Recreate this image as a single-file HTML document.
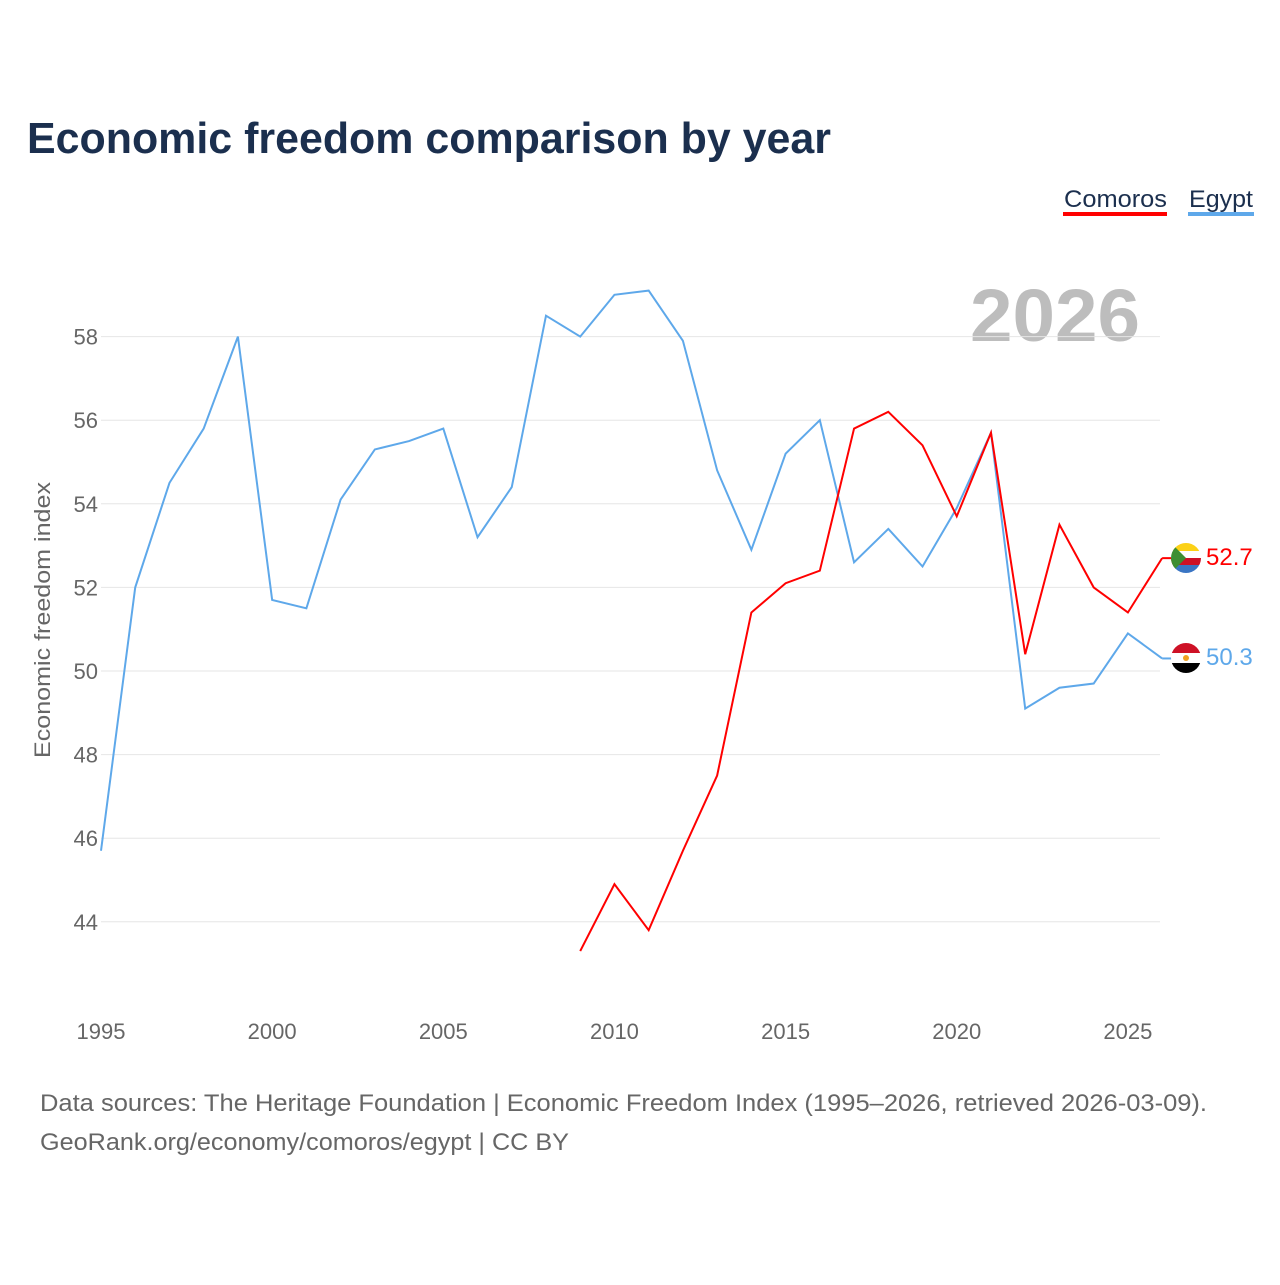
<!DOCTYPE html>
<html><head><meta charset="utf-8"><style>
body{margin:0;width:1280px;height:1280px;background:#fff;font-family:"Liberation Sans",sans-serif;overflow:hidden}
</style></head><body>
<svg id="chart" width="1280" height="1280" xmlns="http://www.w3.org/2000/svg">
<defs>
<clipPath id="c1"><circle cx="1186" cy="558" r="15"/></clipPath>
<clipPath id="c2"><circle cx="1186" cy="658" r="15"/></clipPath>
</defs>
<text x="27" y="153" font-size="44" font-weight="bold" fill="#1b2f4e" textLength="804" lengthAdjust="spacingAndGlyphs">Economic freedom comparison by year</text>
<g><text x="1064" y="207" font-size="24" fill="#1b2f4e" textLength="103" lengthAdjust="spacingAndGlyphs">Comoros</text><rect x="1063" y="212" width="104" height="4" fill="#ff0000"/></g>
<g><text x="1189" y="207" font-size="24" fill="#1b2f4e" textLength="64" lengthAdjust="spacingAndGlyphs">Egypt</text><rect x="1188" y="212" width="66" height="4" fill="#5ea8ea"/></g>
<text x="1140" y="341" font-size="74" font-weight="bold" fill="#bdbdbd" text-anchor="end" textLength="170" lengthAdjust="spacingAndGlyphs">2026</text>
<text transform="translate(50,620) rotate(-90)" font-size="22" fill="#666" text-anchor="middle" textLength="276" lengthAdjust="spacingAndGlyphs">Economic freedom index</text>
<g id="grid"></g><g id="yt"></g><g id="xt"></g><g id="lines"></g>
<g clip-path="url(#c1)">
<rect x="1171" y="543" width="30" height="8" fill="#fcd116"/><rect x="1171" y="551" width="30" height="7" fill="#fff"/><rect x="1171" y="558" width="30" height="7" fill="#ce1126"/><rect x="1171" y="565" width="30" height="8" fill="#3a75c4"/><polygon points="1171,543 1186,558 1171,573" fill="#3d8e33"/></g>
<g clip-path="url(#c2)">
<rect x="1171" y="643" width="30" height="10" fill="#ce1126"/><rect x="1171" y="653" width="30" height="10" fill="#fff"/><rect x="1171" y="663" width="30" height="10" fill="#000"/><circle cx="1186" cy="658" r="3" fill="#f0a020"/></g>
<text x="1206" y="565" font-size="24" fill="#ff0000">52.7</text>
<text x="1206" y="665" font-size="24" fill="#5ea8ea">50.3</text>
<text x="40" y="1111" font-size="24" fill="#666" textLength="1167" lengthAdjust="spacingAndGlyphs">Data sources: The Heritage Foundation | Economic Freedom Index (1995–2026, retrieved 2026-03-09).</text>
<text x="40" y="1150" font-size="24" fill="#666" textLength="529" lengthAdjust="spacingAndGlyphs">GeoRank.org/economy/comoros/egypt | CC BY</text>
</svg>
<script>
const years=[1995,1996,1997,1998,1999,2000,2001,2002,2003,2004,2005,2006,2007,2008,2009,2010,2011,2012,2013,2014,2015,2016,2017,2018,2019,2020,2021,2022,2023,2024,2025,2026];
const egypt=[45.7,52.0,54.5,55.8,58.0,51.7,51.5,54.1,55.3,55.5,55.8,53.2,54.4,58.5,58.0,59.0,59.1,57.9,54.8,52.9,55.2,56.0,52.6,53.4,52.5,53.9,55.7,49.1,49.6,49.7,50.9,50.3];
const comorosYears=[2009,2010,2011,2012,2013,2014,2015,2016,2017,2018,2019,2020,2021,2022,2023,2024,2025,2026];
const comoros=[43.3,44.9,43.8,45.7,47.5,51.4,52.1,52.4,55.8,56.2,55.4,53.7,55.7,50.4,53.5,52.0,51.4,52.7];
const yTicks=[44,46,48,50,52,54,56,58];
const xTicks=[1995,2000,2005,2010,2015,2020,2025];
const NS="http://www.w3.org/2000/svg";
const X=y=>101+(y-1995)*34.23;
const Y=v=>671-(v-50)*41.8;
function mk(t,a,p){const e=document.createElementNS(NS,t);for(const k in a)e.setAttribute(k,a[k]);document.getElementById(p).appendChild(e);return e;}
yTicks.forEach(v=>{
 const l=mk('line',{x1:101,x2:1160,y1:Y(v),y2:Y(v),stroke:'#e6e6e6','stroke-width':1},'grid');
 
 
 const t=mk('text',{x:98,y:Y(v)+8,'font-size':22,fill:'#666','text-anchor':'end'},'yt');t.textContent=v;
 
 
});
xTicks.forEach(v=>{
 const t=mk('text',{x:X(v),y:1039,'font-size':22,fill:'#666','text-anchor':'middle'},'xt');t.textContent=v;
 
 
});
const pe=mk('polyline',{points:years.map((y,i)=>X(y)+','+Y(egypt[i])).join(' '),fill:'none',stroke:'#5ea8ea','stroke-width':2},'lines');


const pc=mk('polyline',{points:comorosYears.map((y,i)=>X(y)+','+Y(comoros[i])).join(' '),fill:'none',stroke:'#ff0000','stroke-width':2},'lines');


mk('line',{x1:X(2026),x2:1172,y1:Y(52.7),y2:Y(52.7),stroke:'#ff0000','stroke-width':2},'lines');
mk('line',{x1:X(2026),x2:1172,y1:Y(50.3),y2:Y(50.3),stroke:'#5ea8ea','stroke-width':2},'lines');
</script>
</body></html>
